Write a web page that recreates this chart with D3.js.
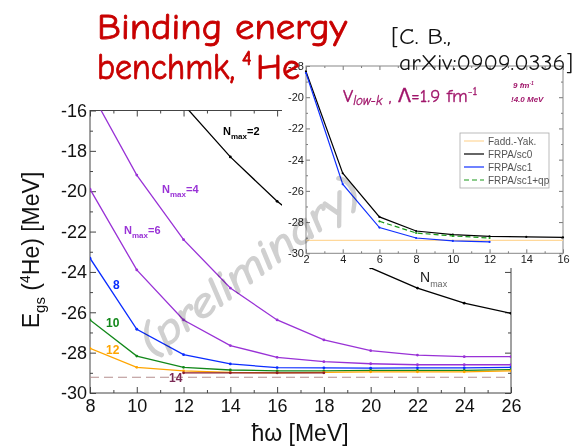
<!DOCTYPE html>
<html>
<head>
<meta charset="utf-8">
<script src="https://cdn.jsdelivr.net/npm/d3@7"></script>
<style>
  body { margin: 0; background: #fff; }
  text { font-family: "Liberation Sans", Arial, sans-serif; }
  .comic { font-family: "Comic Sans MS", "Comic Neue", "DejaVu Sans", sans-serif; }
</style>
</head>
<body>
<svg id="chart" width="575" height="447"></svg>
<script>
  // main chart: hbar omega grid and E_gs for each Nmax
  var hw = [8, 10, 12, 14, 16, 18, 20, 22, 24, 26];
  var nmax2 = [null, null, -15.7, -18.3, -20.5, -22.3, -23.8, -24.8, -25.55, -26.05];
  var nmax4 = [-15.0, -19.2, -22.4, -24.8, -26.38, -27.37, -27.9, -28.12, -28.2, -28.2];
  var nmax6 = [-19.9, -23.9, -26.38, -27.65, -28.23, -28.45, -28.55, -28.6, -28.6, -28.6];
  var nmax8 = [-23.32, -26.84, -28.1, -28.56, -28.74, -28.75, -28.77, -28.75, -28.75, -28.73];
  var nmax10 = [-26.38, -28.17, -28.73, -28.86, -28.9, -28.9, -28.88, -28.88, -28.88, -28.84];
  var nmax12 = [-27.79, -28.73, -28.9, -28.98, -29.0, -28.98, -28.95, -28.95, -28.95, -28.9];
  var nmax14 = [null, null, -29.0, -29.0, -29.0, -29.0, null, null, null, null];
  var exactMain = -29.22;

  // inset: energy vs Nmax
  var insetN = [2, 4, 6, 8, 10, 12, 14, 16];
  var sc0 = [-18.35, -24.87, -27.67, -28.57, -28.8, -28.91, -28.95, -28.98];
  var sc1 = [-18.45, -25.57, -28.35, -29.02, -29.21, -29.27, null, null];
  var sc1qp = [null, null, -27.95, -28.7, -28.89, -29.02, null, null];
  var faddYak = -29.17;

  var mainTicksX = d3.range(8, 27, 2);
  var mainTicksY = d3.range(-30, -15, 2);
  var insetTicksX = d3.range(2, 17, 2);
  var insetTicksY = d3.range(-30, -17, 2);

  var series = [
    { name: 'nmax2', values: nmax2, color: '#000000' },
    { name: 'nmax4', values: nmax4, color: '#9932d6' },
    { name: 'nmax6', values: nmax6, color: '#9932d6' },
    { name: 'nmax8', values: nmax8, color: '#0a2cff' },
    { name: 'nmax10', values: nmax10, color: '#12881a' },
    { name: 'nmax12', values: nmax12, color: '#ffa500' },
    { name: 'nmax14', values: nmax14, color: '#8b1c2c' }
  ];

  var svg = d3.select('#chart');
  svg.append('rect').attr('width', 575).attr('height', 447).attr('fill', '#fff');

  var x = d3.scaleLinear().domain([8, 26]).range([90, 511]);
  var y = d3.scaleLinear().domain([-30, -16]).range([393, 110.5]);
  var fmt = d => String(d);

  svg.append('clipPath').attr('id', 'clipMain')
    .append('rect').attr('x', 90).attr('y', 110.5).attr('width', 421).attr('height', 282.5);

  // axes with inward ticks
  function axisStyle(g, size) {
    g.select('.domain').remove();
    g.selectAll('.tick line').attr('stroke', '#444');
    g.selectAll('text').attr('fill', '#111').style('font-size', size + 'px');
  }
  var oddX = d3.range(9, 26, 2);
  var oddY = [-29, -27, -25, -23, -21, -19, -17];
  svg.append('g').attr('transform', 'translate(0,393)')
    .call(d3.axisBottom(x).tickValues(mainTicksX).tickSize(-6).tickPadding(6).tickFormat(fmt))
    .call(g => axisStyle(g, 18));
  svg.append('g').attr('transform', 'translate(0,393)')
    .call(d3.axisBottom(x).tickValues(oddX).tickSize(-3).tickFormat(''))
    .call(g => axisStyle(g, 18));
  svg.append('g').attr('transform', 'translate(0,110.5)')
    .call(d3.axisTop(x).tickValues(mainTicksX).tickSize(-6).tickFormat(''))
    .call(g => axisStyle(g, 18));
  svg.append('g').attr('transform', 'translate(0,110.5)')
    .call(d3.axisTop(x).tickValues(oddX).tickSize(-3).tickFormat(''))
    .call(g => axisStyle(g, 18));
  svg.append('g').attr('transform', 'translate(90,0)')
    .call(d3.axisLeft(y).tickValues(mainTicksY).tickSize(-6).tickPadding(3).tickFormat(fmt))
    .call(g => axisStyle(g, 18));
  svg.append('g').attr('transform', 'translate(90,0)')
    .call(d3.axisLeft(y).tickValues(oddY).tickSize(-3).tickFormat(''))
    .call(g => axisStyle(g, 18));
  svg.append('g').attr('transform', 'translate(511,0)')
    .call(d3.axisRight(y).tickValues(mainTicksY).tickSize(-6).tickFormat(''))
    .call(g => axisStyle(g, 18));
  svg.append('g').attr('transform', 'translate(511,0)')
    .call(d3.axisRight(y).tickValues(oddY).tickSize(-3).tickFormat(''))
    .call(g => axisStyle(g, 18));

  svg.append('rect').attr('x', 90).attr('y', 110.5).attr('width', 421).attr('height', 282.5)
    .attr('fill', 'none').attr('stroke', '#444').attr('stroke-width', 1);

  var plot = svg.append('g').attr('clip-path', 'url(#clipMain)');

  plot.append('line')
    .attr('x1', x(8)).attr('x2', x(26)).attr('y1', y(exactMain)).attr('y2', y(exactMain))
    .attr('stroke', '#b58e8e').attr('stroke-width', 1.2).attr('stroke-dasharray', '9,5');

  var line = d3.line()
    .defined(d => d[1] != null)
    .x(d => x(d[0])).y(d => y(d[1]));

  series.forEach(s => {
    var pts = hw.map((h, i) => [h, s.values[i]]);
    plot.append('path').datum(pts)
      .attr('fill', 'none').attr('stroke', s.color).attr('stroke-width', 1.3)
      .attr('d', line);
    plot.selectAll(null).data(pts.filter(d => d[1] != null)).enter()
      .append('circle')
      .attr('cx', d => x(d[0])).attr('cy', d => y(d[1])).attr('r', 1.4)
      .attr('fill', s.color);
  });

  // curve labels
  function nmaxLabel(px, py, color, val) {
    var t = svg.append('text').attr('x', px).attr('y', py).attr('fill', color)
      .style('font-size', '11px').style('font-weight', 'bold');
    t.append('tspan').text('N');
    t.append('tspan').attr('dy', 4).style('font-size', '8px').text('max');
    t.append('tspan').attr('dy', -4).text('=' + val);
  }
  nmaxLabel(223, 135, '#000', 2);
  nmaxLabel(162, 192.5, '#9932d6', 4);
  nmaxLabel(124, 234, '#9932d6', 6);
  [['8', 113, 289, '#0a2cff'], ['10', 106, 327, '#12881a'], ['12', 106, 354, '#ffa500'], ['14', 169, 382, '#7a2a55']]
    .forEach(l => {
      svg.append('text').attr('x', l[1]).attr('y', l[2]).attr('fill', l[3])
        .style('font-size', '12px').style('font-weight', 'bold').text(l[0]);
    });

  // axis titles
  var yl = svg.append('text').attr('transform', 'translate(39,250) rotate(-90)')
    .attr('text-anchor', 'middle').attr('fill', '#111').style('font-size', '23px');
  yl.append('tspan').text('E');
  yl.append('tspan').attr('dy', 6).style('font-size', '15px').text('gs');
  yl.append('tspan').attr('dy', -6).text(' (');
  yl.append('tspan').attr('dy', -9).style('font-size', '14px').text('4');
  yl.append('tspan').attr('dy', 9).text('He) [MeV]');

  svg.append('text').attr('x', 300).attr('y', 441).attr('text-anchor', 'middle')
    .attr('fill', '#111').style('font-size', '23px').text('ħω [MeV]');

  // ---- inset ----
  svg.append('rect').attr('x', 282).attr('y', 58).attr('width', 293).attr('height', 210).attr('fill', '#fff');

  var xi = d3.scaleLinear().domain([2, 16]).range([306, 563]);
  var yi = d3.scaleLinear().domain([-30, -18]).range([253.3, 66]);

  function insetAxis(g) {
    g.select('.domain').remove();
    g.selectAll('.tick line').attr('stroke', '#777');
    g.selectAll('text').attr('fill', '#222').style('font-size', '11px');
  }
  var oddXi = d3.range(3, 16, 2);
  var oddYi = [-29, -27, -25, -23, -21, -19];
  svg.append('g').attr('transform', 'translate(0,253.3)')
    .call(d3.axisBottom(xi).tickValues(insetTicksX).tickSize(-4).tickPadding(2).tickFormat(fmt))
    .call(insetAxis);
  svg.append('g').attr('transform', 'translate(0,253.3)')
    .call(d3.axisBottom(xi).tickValues(oddXi).tickSize(-2).tickFormat(''))
    .call(insetAxis);
  svg.append('g').attr('transform', 'translate(0,66)')
    .call(d3.axisTop(xi).tickValues(insetTicksX).tickSize(-4).tickFormat(''))
    .call(insetAxis);
  svg.append('g').attr('transform', 'translate(0,66)')
    .call(d3.axisTop(xi).tickValues(oddXi).tickSize(-2).tickFormat(''))
    .call(insetAxis);
  svg.append('g').attr('transform', 'translate(306,0)')
    .call(d3.axisLeft(yi).tickValues(insetTicksY).tickSize(-4).tickPadding(2).tickFormat(fmt))
    .call(insetAxis);
  svg.append('g').attr('transform', 'translate(306,0)')
    .call(d3.axisLeft(yi).tickValues(oddYi).tickSize(-2).tickFormat(''))
    .call(insetAxis);
  svg.append('g').attr('transform', 'translate(563,0)')
    .call(d3.axisRight(yi).tickValues(insetTicksY).tickSize(-4).tickFormat(''))
    .call(insetAxis);
  svg.append('g').attr('transform', 'translate(563,0)')
    .call(d3.axisRight(yi).tickValues(oddYi).tickSize(-2).tickFormat(''))
    .call(insetAxis);
  svg.append('rect').attr('x', 306).attr('y', 66).attr('width', 257).attr('height', 187.3)
    .attr('fill', 'none').attr('stroke', '#888');

  svg.append('line').attr('x1', xi(2)).attr('x2', xi(16)).attr('y1', yi(faddYak)).attr('y2', yi(faddYak))
    .attr('stroke', '#ffd89a').attr('stroke-width', 1.2);

  var iline = d3.line().defined(d => d[1] != null).x(d => xi(d[0])).y(d => yi(d[1]));
  var insetSeries = [
    { values: sc0, color: '#000', dash: null },
    { values: sc1, color: '#1030ff', dash: null },
    { values: sc1qp, color: '#1a9a1a', dash: '5,3' }
  ];
  insetSeries.forEach(s => {
    var pts = insetN.map((n, i) => [n, s.values[i]]);
    svg.append('path').datum(pts).attr('fill', 'none').attr('stroke', s.color)
      .attr('stroke-width', 1.2).attr('stroke-dasharray', s.dash).attr('d', iline);
    svg.selectAll(null).data(pts.filter(d => d[1] != null)).enter().append('circle')
      .attr('cx', d => xi(d[0])).attr('cy', d => yi(d[1])).attr('r', 1.1).attr('fill', s.color);
  });

  // inset legend
  var legendNames = ['Fadd.-Yak.', 'FRPA/sc0', 'FRPA/sc1', 'FRPA/sc1+qp'];
  var legendColors = ['#ffd89a', '#000', '#1030ff', '#1a9a1a'];
  svg.append('rect').attr('x', 460).attr('y', 133).attr('width', 89).attr('height', 55)
    .attr('fill', '#fff').attr('stroke', '#aaa').attr('stroke-width', 0.8);
  legendNames.forEach((n, i) => {
    var ly = 141 + i * 13;
    svg.append('line').attr('x1', 464).attr('x2', 484).attr('y1', ly).attr('y2', ly)
      .attr('stroke', legendColors[i]).attr('stroke-width', 1.2)
      .attr('stroke-dasharray', i === 3 ? '5,3' : null);
    svg.append('text').attr('x', 488).attr('y', ly + 3.5).attr('fill', '#555')
      .style('font-size', '10px').text(n);
  });

  // inset annotation
  var va = svg.append('text').attr('class', 'comic').attr('x', 343).attr('y', 101.5)
    .attr('fill', '#a0156a').attr('stroke', '#a0156a').attr('stroke-width', 0.3)
    .style('font-size', '19px');
  va.append('tspan').text('V');
  va.append('tspan').attr('dy', 3).style('font-size', '13px').style('font-style', 'italic').text('low-k');
  va.append('tspan').attr('dy', -3).text(' , Λ=1.9 fm');
  va.append('tspan').attr('dy', -7).style('font-size', '12px').text('-1');

  var s1 = svg.append('text').attr('x', 513).attr('y', 88).attr('fill', '#a0156a')
    .style('font-size', '8px').style('font-style', 'italic').style('font-weight', 'bold');
  s1.append('tspan').text('9 fm');
  s1.append('tspan').attr('dy', -3).style('font-size', '5px').text('-1');
  svg.append('text').attr('x', 511).attr('y', 102).attr('fill', '#a0156a')
    .style('font-size', '8px').style('font-style', 'italic').style('font-weight', 'bold').text('!4.0 MeV');

  // inset x title, drawn over the main curve
  var nt = svg.append('text').attr('x', 420).attr('y', 282).attr('fill', '#222').style('font-size', '14px');
  nt.append('tspan').text('N');
  nt.append('tspan').attr('dy', 5).attr('fill', '#666').style('font-size', '9px').text('max');

  // title and reference
  svg.append('text').attr('class', 'comic').attr('x', 97).attr('y', 39).attr('fill', '#c80000')
    .attr('stroke', '#c80000').attr('stroke-width', 0.8)
    .attr('textLength', 250).attr('lengthAdjust', 'spacingAndGlyphs')
    .style('font-size', '36px').text('Binding energy');
  var t2 = svg.append('text').attr('class', 'comic').attr('y', 79).attr('fill', '#c80000')
    .attr('stroke', '#c80000').attr('stroke-width', 0.8)
    .style('font-size', '36px');
  t2.append('tspan').attr('x', 97).attr('textLength', 138).attr('lengthAdjust', 'spacingAndGlyphs').text('benchmk,');
  t2.append('tspan').attr('x', 242).attr('dy', -14).style('font-size', '20px').text('4');
  t2.append('tspan').attr('x', 256).attr('dy', 14).text('He');

  svg.append('text').attr('class', 'comic').attr('x', 391).attr('y', 44).attr('fill', '#111')
    .attr('textLength', 60).attr('lengthAdjust', 'spacingAndGlyphs')
    .style('font-size', '23px').text('[C. B.,');
  svg.append('text').attr('class', 'comic').attr('x', 399).attr('y', 70).attr('fill', '#111')
    .attr('textLength', 174).attr('lengthAdjust', 'spacingAndGlyphs')
    .style('font-size', '23px').text('arXiv:0909.0336]');

  // watermark (multiply so the curves still show through)
  svg.append('text').attr('class', 'comic')
    .attr('transform', 'translate(252,270) rotate(-37)')
    .attr('text-anchor', 'middle').attr('dominant-baseline', 'middle')
    .attr('textLength', 265).attr('lengthAdjust', 'spacingAndGlyphs')
    .attr('fill', '#d0d0d0').attr('stroke', '#d0d0d0').attr('stroke-width', 1.6)
    .style('mix-blend-mode', 'multiply')
    .style('font-size', '42px').style('font-style', 'italic').text('(preliminary)');
</script>
</body>
</html>
